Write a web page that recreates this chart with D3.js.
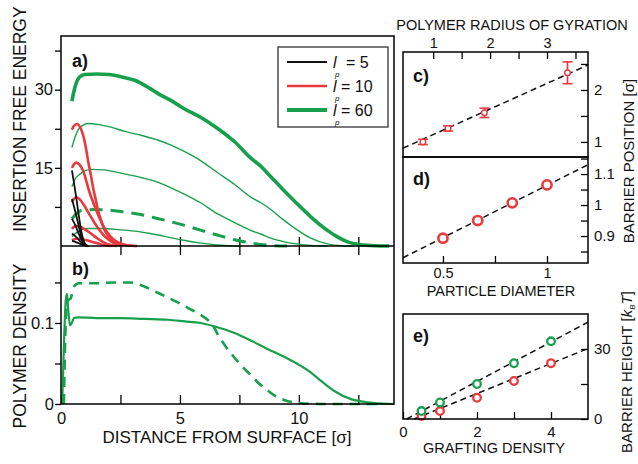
<!DOCTYPE html>
<html><head><meta charset="utf-8">
<script src="https://cdn.jsdelivr.net/npm/d3@7"></script>
<style>
body{margin:0;background:#fff;}
svg{font-family:"Liberation Sans",Arial,sans-serif;}
</style></head><body>
<svg id="c" width="638" height="464"></svg>
<script>
// ---------- DATA ----------
// Panel a: insertion free energy vs distance, for grafting densities 0.5,1,2,3,4
const lp60_thick = [[0.46,27.8],[0.55,29.8],[0.65,31.4],[0.8,32.5],[1.0,32.9],[1.5,33.0],[2.0,32.9],[2.6,32.4],[3.1,31.8],[3.75,30.2],[4.1,29.2],[4.6,28.0],[5.16,26.4],[5.9,24.6],[6.57,22.6],[7.3,20.0],[7.97,16.9],[8.4,15.3],[8.82,13.3],[9.3,11.0],[9.8,8.7],[10.5,5.6],[11.2,3.0],[11.6,1.8],[12.05,0.8],[12.6,0.25],[13.2,0.05],[13.8,0]];
const lp60_g3 = [[0.46,18.9],[0.6,21.0],[0.72,22.3],[0.9,23.1],[1.14,23.5],[1.6,23.3],[2.1,22.8],[2.69,22.0],[3.4,21.2],[4.09,20.3],[4.6,19.4],[5.16,18.2],[5.9,16.3],[6.57,14.1],[7.3,11.8],[7.97,9.4],[8.4,8.3],[8.82,7.0],[9.3,5.2],[9.8,3.5],[10.5,1.5],[11.2,0.4],[11.8,0.05],[12.3,0]];
const lp60_g2 = [[0.46,11.4],[0.6,12.9],[0.8,13.8],[1.0,14.4],[1.28,14.7],[1.8,14.6],[2.69,13.8],[3.4,13.1],[4.09,12.2],[4.6,11.2],[5.16,10.0],[5.9,8.2],[6.57,6.2],[7.3,4.5],[7.97,3.0],[8.4,2.3],[8.82,1.5],[9.3,0.9],[9.8,0.45],[10.5,0.1],[11.2,0]];
const lp60_g1_dashed = [[0.46,5.2],[0.65,6.2],[0.86,6.8],[1.42,7.0],[2.0,6.9],[2.69,6.5],[3.3,6.1],[3.81,5.55],[4.5,4.8],[5.16,4.0],[5.9,3.0],[6.57,2.1],[7.3,1.2],[7.97,0.6],[8.5,0.25],[9.0,0.05],[9.5,0]];
const lp60_g05 = [[0.46,1.8],[0.7,2.7],[0.9,3.2],[1.14,3.35],[1.7,3.35],[2.5,3.1],[3.2,2.8],[3.75,2.4],[4.09,2.1],[4.6,1.6],[5.16,1.1],[5.9,0.55],[6.57,0.2],[7.2,0.03],[7.6,0]];
const lp10_curves = [
  [[0.46,22.3],[0.55,23.1],[0.69,23.4],[0.8,22.8],[0.93,21.3],[1.04,19.0],[1.14,16.3],[1.25,13.7],[1.35,11.2],[1.46,8.9],[1.56,6.8],[1.7,4.7],[1.84,3.0],[2.05,1.6],[2.27,0.8],[2.6,0.3],[3.0,0.05],[3.2,0]],
  [[0.46,15.0],[0.55,15.7],[0.65,16.0],[0.78,15.6],[0.93,14.4],[1.04,12.9],[1.14,11.2],[1.35,8.4],[1.56,6.0],[1.77,3.9],[1.98,2.4],[2.2,1.3],[2.45,0.6],[2.7,0.2],[2.9,0]],
  [[0.46,8.4],[0.55,9.1],[0.65,9.35],[0.78,9.0],[0.93,8.1],[1.14,6.5],[1.35,4.9],[1.56,3.4],[1.77,2.2],[1.98,1.3],[2.2,0.6],[2.45,0.15],[2.6,0]],
  [[0.46,3.3],[0.55,3.7],[0.65,3.85],[0.8,3.7],[1.0,3.2],[1.2,2.6],[1.4,1.9],[1.6,1.25],[1.8,0.7],[2.0,0.3],[2.2,0.08],[2.35,0]],
  [[0.46,1.1],[0.6,1.35],[0.75,1.4],[0.95,1.25],[1.2,0.95],[1.45,0.6],[1.7,0.3],[1.95,0.1],[2.1,0]]
];
const lp5_curves = [
  [[0.46,14.5],[0.55,12.0],[0.65,9.0],[0.75,5.8],[0.85,2.9],[0.95,1.0],[1.05,0.2],[1.15,0]],
  [[0.46,9.0],[0.55,7.5],[0.65,5.7],[0.75,3.7],[0.85,1.9],[0.95,0.7],[1.05,0.15],[1.12,0]],
  [[0.46,5.2],[0.6,4.0],[0.75,2.3],[0.9,0.9],[1.0,0.3],[1.1,0]],
  [[0.46,2.4],[0.6,1.9],[0.75,1.2],[0.9,0.5],[1.05,0.1],[1.12,0]],
  [[0.46,1.0],[0.6,0.8],[0.8,0.4],[1.0,0.1],[1.1,0]]
];
// Panel b: polymer density
const density_solid = [[0.05,0],[0.12,0.07],[0.2,0.128],[0.25,0.136],[0.3,0.118],[0.38,0.097],[0.45,0.1],[0.55,0.106],[0.7,0.107],[1.5,0.106],[2.5,0.106],[3.5,0.105],[4.5,0.104],[5.2,0.102],[5.87,0.1],[6.43,0.096],[7.27,0.088],[8.0,0.078],[8.68,0.068],[9.4,0.058],[10.08,0.047],[10.5,0.039],[10.79,0.032],[11.49,0.016],[12.19,0.006],[12.9,0.002],[13.5,0.0005],[14,0]];
const density_dashed = [[0.12,0],[0.2,0.1],[0.28,0.128],[0.4,0.13],[0.55,0.145],[0.75,0.149],[1.5,0.149],[2.2,0.15],[2.9,0.15],[3.5,0.145],[4.09,0.137],[4.8,0.127],[5.5,0.116],[5.87,0.11],[6.2,0.103],[6.43,0.095],[6.57,0.087],[6.9,0.072],[7.27,0.058],[7.6,0.047],[7.97,0.036],[8.3,0.026],[8.68,0.017],[9.0,0.01],[9.38,0.005],[10.08,0.001],[11,0],[13.4,0]];
// Panel c: barrier position vs radius of gyration (with error)
const cRg = [0.82,1.26,1.90,3.36];
const cPos = [1.0,1.26,1.56,2.33];
const cErr = [0.05,0.05,0.09,0.21];
const cFitX = [0.47,3.72], cFitY = [0.88,2.48];
// Panel d: barrier position vs particle diameter
const dDiam = [0.5,0.667,0.833,1.0];
const dPos = [0.893,0.95,1.007,1.065];
const dFitX = [0.308,1.197], dFitY = [0.83,1.13];
// Panel e: barrier height vs grafting density
const eGraft = [0.5,1,2,3,4];
const eHeight60 = [3.4,7.1,15.0,23.9,33.3];
const eHeight10 = [1.3,3.4,9.1,16.3,23.9];
const eFit60X = [0.1,5], eFit60Y = [0,41.5];
const eFit10X = [0.3,5], eFit10Y = [0,30.2];
// tick labels
const aYLabels = [15,30];
const bYLabels = [0,0.1];
const xLabels = [0,5,10];
const legendLabels = ["= 5","= 10","= 60"];

// ---------- DRAW ----------
const GREEN="#17a04c", RED="#e8393f", BLACK="#111";
const svg = d3.select("#c");
const FONT = '"Liberation Sans",Arial,sans-serif';

const xA = d3.scaleLinear([0,14],[61,394]);
const yA = d3.scaleLinear([0,40.3],[246,36]);
const yB = d3.scaleLinear([0,0.195],[404,246]);

const lineA = d3.line().x(d=>xA(d[0])).y(d=>yA(d[1])).curve(d3.curveMonotoneX);
const lineB = d3.line().x(d=>xA(d[0])).y(d=>yB(d[1])).curve(d3.curveMonotoneX);

function styleAxis(g, fs){
  g.select(".domain").remove();
  g.selectAll(".tick line").attr("stroke","#000").attr("stroke-width",1.3);
  g.selectAll("text").attr("font-family",FONT).attr("font-size",fs).attr("fill","#111");
}
const xt = d3.range(0,14,2.5);
svg.append("g").attr("transform","translate(0,246)")
  .call(d3.axisTop(xA).tickValues(xt.slice(1)).tickSize(9).tickFormat(""))
  .call(g=>styleAxis(g,16));
svg.append("g").attr("transform","translate(0,246)")
  .call(d3.axisBottom(xA).tickValues(xt.slice(1)).tickSize(9).tickFormat(""))
  .call(g=>styleAxis(g,16));
svg.append("g").attr("transform","translate(0,404)")
  .call(d3.axisBottom(xA).tickValues(xt).tickSizeInner(-9).tickSizeOuter(0).tickPadding(8)
     .tickFormat(d=>xLabels.includes(d)?d3.format("d")(d):""))
  .call(g=>styleAxis(g,16.5));
svg.append("g").attr("transform","translate(61,0)")
  .call(d3.axisLeft(yA).tickValues([7.5,15,22.5,30,37.5]).tickSize(6).tickPadding(2)
     .tickFormat(d=>aYLabels.includes(d)?d:""))
  .call(g=>styleAxis(g,16.5));
svg.append("g").attr("transform","translate(61,0)")
  .call(d3.axisLeft(yB).tickValues([0,0.05,0.1,0.15]).tickSize(6).tickPadding(1)
     .tickFormat(d=>bYLabels.includes(d)?(d===0?"0":d3.format(".1f")(d)):""))
  .call(g=>styleAxis(g,16.5));

// curves panel a
const ga = svg.append("g");
[lp60_g05, lp60_g2, lp60_g3].forEach(c=>ga.append("path").attr("d",lineA(c)).attr("fill","none").attr("stroke",GREEN).attr("stroke-width",1.4));
ga.append("path").attr("d",lineA(lp60_g1_dashed)).attr("fill","none").attr("stroke",GREEN).attr("stroke-width",3).attr("stroke-dasharray","13,8");
ga.append("path").attr("d",lineA(lp60_thick)).attr("fill","none").attr("stroke",GREEN).attr("stroke-width",3.6).attr("stroke-linejoin","round");
lp10_curves.forEach(c=>ga.append("path").attr("d",lineA(c)).attr("fill","none").attr("stroke",RED).attr("stroke-width",2.6));
lp5_curves.forEach(c=>ga.append("path").attr("d",lineA(c)).attr("fill","none").attr("stroke",BLACK).attr("stroke-width",1.8));

// curves panel b
svg.append("path").attr("d",lineB(density_solid)).attr("fill","none").attr("stroke",GREEN).attr("stroke-width",2.2);
svg.append("path").attr("d",lineB(density_dashed)).attr("fill","none").attr("stroke",GREEN).attr("stroke-width",2.6).attr("stroke-dasharray","10,7");

// frames
svg.append("rect").attr("x",61).attr("y",36).attr("width",333).attr("height",368).attr("fill","none").attr("stroke","#000").attr("stroke-width",1.5);
svg.append("line").attr("x1",61).attr("x2",394).attr("y1",246).attr("y2",246).attr("stroke","#000").attr("stroke-width",1.5);

// legend
const lg = svg.append("g");
lg.append("rect").attr("x",278).attr("y",47).attr("width",110).attr("height",80).attr("fill","#fff").attr("stroke","#222").attr("stroke-width",1.2);
const legCols=[BLACK,RED,GREEN], legW=[2,2.6,4];
legendLabels.forEach((t,i)=>{
  const y=62+i*24;
  lg.append("line").attr("x1",287).attr("x2",327).attr("y1",y).attr("y2",y).attr("stroke",legCols[i]).attr("stroke-width",legW[i]);
  lg.append("text").attr("x",333).attr("y",y+6).attr("font-family",FONT).attr("font-size",16).attr("font-style","italic").attr("fill","#111").text("l");
  lg.append("text").attr("x",335).attr("y",y+15).attr("font-family",FONT).attr("font-size",8).attr("font-style","italic").attr("fill","#111").text("p");
  lg.append("text").attr("x",i===0?346:341).attr("y",y+6).attr("font-family",FONT).attr("font-size",16).attr("fill","#111").text(t);
});

// panel labels
function lab(t,x,y,fs,opt={}){
  const e=svg.append("text").attr("x",x).attr("y",y).attr("font-family",FONT).attr("font-size",fs).attr("fill","#111").text(t);
  if(opt.bold) e.attr("font-weight","bold");
  if(opt.anchor) e.attr("text-anchor",opt.anchor);
  if(opt.rot!==undefined) e.attr("transform",`rotate(${opt.rot},${x},${y})`);
  return e;
}
lab("a)",72,67,18,{bold:true});
lab("b)",72,275,18,{bold:true});
lab("INSERTION FREE ENERGY",26,119,17.5,{anchor:"middle",rot:-90});
lab("POLYMER DENSITY",26,346,17.5,{anchor:"middle",rot:-90});
lab("DISTANCE FROM SURFACE [σ]",227,443,17,{anchor:"middle"});

// ---- right panels ----
const xC = d3.scaleLinear([0.47,3.72],[403,588]);
const yC = d3.scaleLinear([0.71,2.73],[157,52]);
const xD = d3.scaleLinear([0.308,1.197],[403,588]);
const yD = d3.scaleLinear([0.813,1.155],[263,157]);
const xE = d3.scaleLinear([0,5],[403,588]);
const yE = d3.scaleLinear([0,45],[419,314]);

svg.append("g").attr("transform","translate(0,52)")
  .call(d3.axisTop(xC).tickValues([1,1.5,2,2.5,3,3.5]).tickSizeInner(-7).tickSizeOuter(0).tickPadding(4)
    .tickFormat(d=>Number.isInteger(d)?d:""))
  .call(g=>styleAxis(g,14.5));
svg.append("g").attr("transform","translate(588,0)")
  .call(d3.axisRight(yC).tickValues([1,1.5,2,2.5]).tickSizeInner(-7).tickSizeOuter(0).tickPadding(6)
    .tickFormat(d=>Number.isInteger(d)?d:""))
  .call(g=>styleAxis(g,15));
svg.append("g").attr("transform","translate(0,263)")
  .call(d3.axisBottom(xD).tickValues([0.5,0.75,1]).tickSizeInner(-7).tickSizeOuter(0).tickPadding(5)
    .tickFormat(d=>d===0.75?"":(d===1?"1":"0.5")))
  .call(g=>styleAxis(g,14.5));
svg.append("g").attr("transform","translate(588,0)")
  .call(d3.axisRight(yD).tickValues([0.85,0.9,0.95,1,1.05,1.1,1.15]).tickSizeInner(-7).tickSizeOuter(0).tickPadding(6)
    .tickFormat(d=>({0.9:"0.9",1:"1",1.1:"1.1"})[d]||""))
  .call(g=>styleAxis(g,15));
svg.append("g").attr("transform","translate(0,419)")
  .call(d3.axisBottom(xE).tickValues([0,1,2,3,4]).tickSizeInner(-7).tickSizeOuter(0).tickPadding(7)
    .tickFormat(d=>d%2===0?d:""))
  .call(g=>styleAxis(g,15));
svg.append("g").attr("transform","translate(588,0)")
  .call(d3.axisRight(yE).tickValues([0,15,30]).tickSizeInner(-7).tickSizeOuter(0).tickPadding(6)
    .tickFormat(d=>d===15?"":d))
  .call(g=>styleAxis(g,15));

// c data
const cg = svg.append("g");
cg.append("line").attr("x1",xC(cFitX[0])).attr("x2",xC(cFitX[1])).attr("y1",yC(cFitY[0])).attr("y2",yC(cFitY[1]))
  .attr("stroke","#111").attr("stroke-width",1.5).attr("stroke-dasharray","6,4");
cRg.forEach((x,i)=>{
  const px=xC(x), y0=yC(cPos[i]-cErr[i]), y1=yC(cPos[i]+cErr[i]);
  cg.append("line").attr("x1",px).attr("x2",px).attr("y1",y0).attr("y2",y1).attr("stroke",RED).attr("stroke-width",1.6);
  [y0,y1].forEach(yy=>cg.append("line").attr("x1",px-5).attr("x2",px+5).attr("y1",yy).attr("y2",yy).attr("stroke",RED).attr("stroke-width",1.6));
  cg.append("circle").attr("cx",px).attr("cy",yC(cPos[i])).attr("r",2.8).attr("fill","#fff").attr("stroke",RED).attr("stroke-width",1.4);
});
svg.append("line").attr("x1",xD(dFitX[0])).attr("x2",xD(dFitX[1])).attr("y1",yD(dFitY[0])).attr("y2",yD(dFitY[1]))
  .attr("stroke","#111").attr("stroke-width",1.5).attr("stroke-dasharray","6,4");
dDiam.forEach((x,i)=>svg.append("circle").attr("cx",xD(x)).attr("cy",yD(dPos[i])).attr("r",4.6).attr("fill","#fff").attr("stroke",RED).attr("stroke-width",2.6));
[[eFit60X,eFit60Y],[eFit10X,eFit10Y]].forEach(([fx,fy])=>svg.append("line").attr("x1",xE(fx[0])).attr("x2",xE(fx[1])).attr("y1",yE(fy[0])).attr("y2",yE(fy[1]))
  .attr("stroke","#111").attr("stroke-width",1.5).attr("stroke-dasharray","6,4"));
eGraft.forEach((x,i)=>{
  svg.append("circle").attr("cx",xE(x)).attr("cy",yE(eHeight10[i])).attr("r",3.8).attr("fill","#fff").attr("stroke",RED).attr("stroke-width",2.3);
  svg.append("circle").attr("cx",xE(x)).attr("cy",yE(eHeight60[i])).attr("r",3.8).attr("fill","#fff").attr("stroke",GREEN).attr("stroke-width",2.3);
});

[[52,157],[157,263],[314,419]].forEach(([t,b])=>svg.append("rect").attr("x",403).attr("y",t).attr("width",185).attr("height",b-t)
  .attr("fill","none").attr("stroke","#000").attr("stroke-width",1.5));

lab("c)",413,82,18,{bold:true});
lab("d)",413,185,18,{bold:true});
lab("e)",413,342,18,{bold:true});
lab("POLYMER RADIUS OF GYRATION",512,30,14.5,{anchor:"middle"});
lab("PARTICLE DIAMETER",501,296,14.5,{anchor:"middle"});
lab("GRAFTING DENSITY",494,453,14.5,{anchor:"middle"});
lab("BARRIER POSITION [σ]",634,161,15,{anchor:"middle",rot:-90});
const bh = svg.append("text").attr("x",632).attr("y",372).attr("text-anchor","middle").attr("font-family",FONT).attr("font-size",15).attr("fill","#111")
  .attr("transform","rotate(-90,632,372)");
bh.append("tspan").text("BARRIER HEIGHT [");
bh.append("tspan").attr("font-style","italic").text("k");
bh.append("tspan").attr("font-style","italic").attr("font-size",8).attr("dy",3).text("B");
bh.append("tspan").attr("font-style","italic").attr("dy",-3).text("T");
bh.append("tspan").text("]");
</script>
</body></html>
